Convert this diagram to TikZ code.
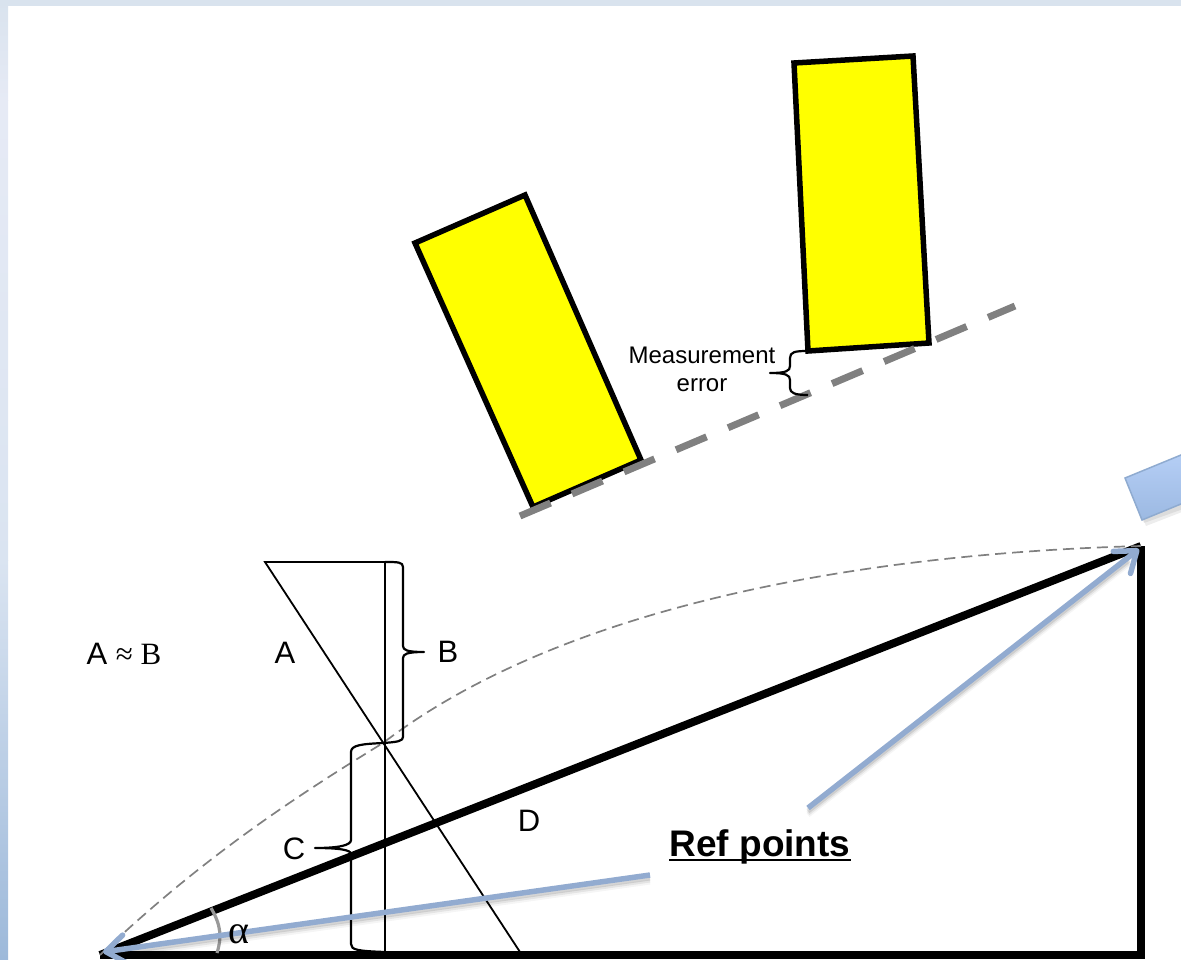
\documentclass[tikz,border=0pt]{standalone}
\usepackage{fontspec}
\setmainfont{Liberation Sans}
\newfontfamily\serifface{Liberation Serif}
\usetikzlibrary{arrows.meta,calc}
\definecolor{stripA}{HTML}{D9E3EE}
\definecolor{stripB}{HTML}{E6EAF5}
\definecolor{stripC}{HTML}{DAE4F1}
\definecolor{stripD}{HTML}{9DB9DA}
\definecolor{refblue}{HTML}{92ABD0}
\definecolor{boxedge}{HTML}{8FABD0}
\definecolor{boxtop}{HTML}{B7D0F7}
\definecolor{boxbot}{HTML}{9CB9E2}
\definecolor{pureyellow}{HTML}{FFFF00}
\tikzset{
  yellowbox/.style={draw=black,line width=5.5pt,fill=pureyellow,line join=miter},
  heavy/.style={line width=8pt,draw=black,line cap=butt,line join=miter},
  thin line/.style={line width=1.8pt,draw=black},
  bracepath/.style={line width=2.2pt,draw=black,line join=round},
  refdash/.style={line width=7pt,draw=black!50,dash pattern=on 33.2pt off 23.3pt},
  curve line/.style={line width=1.7pt,draw=black!50,dash pattern=on 11pt off 6pt},
  refarrow/.style={line width=5.5pt,draw=refblue,-{Straight Barb[length=19pt,width=28pt,round]}},
  shadowline/.style={draw=black,line cap=butt},
  label/.style={inner sep=0pt,font=\fontsize{31}{35}\selectfont},
  reflabel/.style={inner sep=0pt,anchor=base,font=\fontsize{37}{42}\selectfont\bfseries},
  small label/.style={inner sep=0pt,align=center,font=\fontsize{24}{28}\selectfont},
}
\begin{document}
\begin{tikzpicture}[x=1pt,y=-1pt]
\useasboundingbox (0,0) rectangle (1181,959);
\clip (0,0) rectangle (1181,959);
% page frame
\shade[top color=stripA,bottom color=stripB] (0,0) rectangle (8,100);
\shade[top color=stripB,bottom color=stripC] (0,100) rectangle (8,560);
\shade[top color=stripC,bottom color=stripD] (0,560) rectangle (8,959);
\fill[stripA] (0,0) rectangle (1181,6);
% key points
\coordinate (O) at (100,955);
\coordinate (R) at (1141,955);
\coordinate (P) at (1141,546);
\coordinate (Tl) at (265,562);
\coordinate (Tr) at (385,562);
\coordinate (Bv) at (385,952);
\coordinate (Ae) at (520,952);
\coordinate (X) at (383,743);
% yellow boxes
\draw[yellowbox] (415,243) -- (525,195) -- (641,460) -- (533,507) -- cycle;
\draw[yellowbox] (794,63) -- (913,56) -- (929,343) -- (808,351) -- cycle;
\coordinate (Da) at (520,516);
\coordinate (Db) at (1015,306);
\draw[refdash] (Da) -- (Db);
% measurement brace
\draw[bracepath] (807,351) .. controls (795,351) and (790,352) .. (790,358) -- (790,366) .. controls (790,371) and (786,373) .. (770,373) .. controls (786,373) and (790,375) .. (790,380) -- (790,388) .. controls (790,393) and (795,395) .. (808,395);
\node[small label] (merr) at (702,369) {Measurement\\error};
% blue box shadow and box
\fill[black,opacity=.07] (1129,484) -- (1146,526) -- (1200,505) -- (1200,460) -- cycle;
\fill[black,opacity=.07] (1127,481) -- (1144,523) -- (1200,503) -- (1200,458) -- cycle;
\shade[top color=boxtop,bottom color=boxbot,draw=boxedge,line width=1.5pt] (1125,478) -- (1142,520) -- (1215,490) -- (1198,448) -- cycle;
% triangle
\draw[heavy] (O) -- (R) -- (P);
\draw[heavy] (O) -- (P);
% construction lines
\draw[curve line] (O) .. controls (200,860) and (290,800) .. (X) .. controls (570,600) and (880,553) .. (P);
\draw[thin line] (Ae) -- (Tl) -- (Tr);
\draw[thin line] (Tr) -- (Bv);
% braces B and C
\draw[bracepath] (Tr) .. controls (398,562) and (403,562) .. (403,567) -- (403,646) .. controls (403,650) and (407,652) .. (424,652) .. controls (407,652) and (403,654) .. (403,658) -- (403,737) .. controls (403,741) and (398,742) .. (X);
\draw[bracepath] (X) .. controls (362,744) and (351,745) .. (351,752) -- (351,840) .. controls (351,845) and (340,848) .. (315,848) .. controls (340,848) and (351,850) .. (351,854) -- (351,944) .. controls (351,950) and (358,951) .. (Bv);
% angle mark
\coordinate (Ang1) at (211,908);
\coordinate (Ang2) at (217,953);
\draw[line width=3.2pt,draw=black!40] (Ang1) .. controls (221,925) and (222,937) .. (Ang2);
% reference arrows with shadow
\coordinate (Ra) at (650,875);
\coordinate (Rb) at (808,808);
\coordinate (Ea) at (103,952);
\coordinate (Eb) at (1139,549);
\foreach \dy/\op in {7/.04,5/.07,3/.10}{
  \draw[shadowline,line width=5pt,opacity=\op] ($(Ra)+(0,\dy)$) -- ($(Ea)+(20,\dy-3)$);
  \draw[shadowline,line width=5pt,opacity=\op] ($(Rb)+(0,\dy)$) -- ($(Eb)+(-10,\dy+8)$);
}
\draw[refarrow] (Ra) -- (Ea);
\draw[refarrow] (Rb) -- (Eb);
% labels
\node[label] (lAB) at (124,654) {A {\serifface≈ B}};
\node[label] (lA) at (285,653) {A};
\node[label] (lB) at (448,652) {B};
\node[label] (lC) at (294,849) {C};
\node[label] (lD) at (529,821) {D};
\node[label,font=\fontsize{40}{44}\selectfont] (lalpha) at (239,934) {\serifface α};
\node[reflabel] (lRef) at (760,856) {Ref points};
\draw[line width=2.6pt] ($(lRef.base west)+(0,4)$) -- ($(lRef.base east)+(0,4)$);
\end{tikzpicture}
\end{document}
